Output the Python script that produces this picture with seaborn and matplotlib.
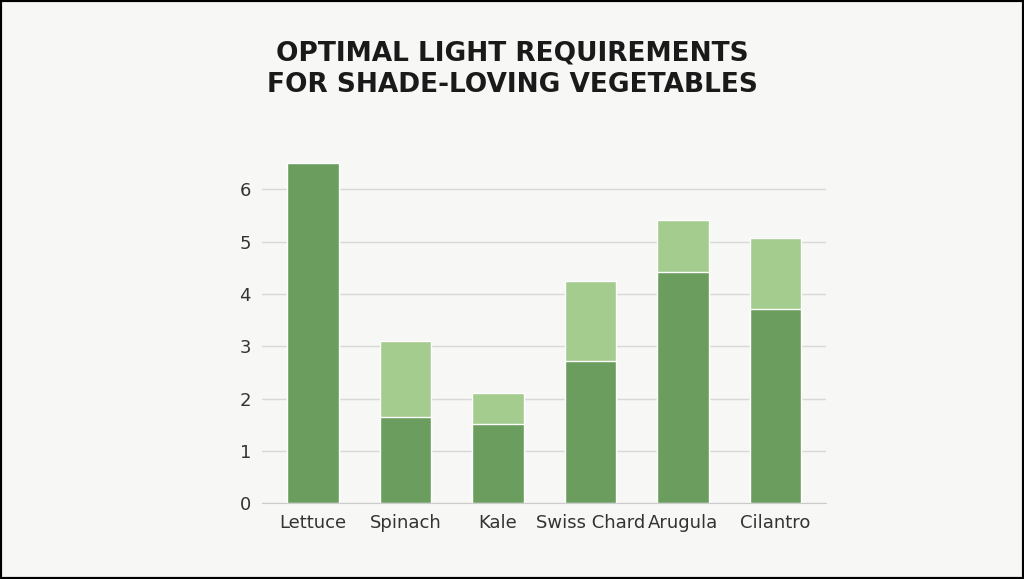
import pandas as pd
import matplotlib
matplotlib.use("Agg")
from matplotlib import pyplot as plt
import seaborn as sns

vegetables = ["Lettuce", "Spinach", "Kale", "Swiss Chard", "Arugula", "Cilantro"]
min_light = [6.5, 1.65, 1.52, 2.72, 4.42, 3.72]
max_light = [6.5, 3.1, 2.1, 4.25, 5.42, 5.08]

df = pd.DataFrame({"veg": vegetables, "low": min_light, "high": max_light})

dark = "#6b9d5e"
light = "#a4cc8f"
bg = "#f7f7f5"

sns.set_style("white")
fig = plt.figure(figsize=[10.24, 5.79], dpi=100, facecolor=bg)
ax = fig.add_axes([0.256, 0.131, 0.551, 0.596])
ax.set_facecolor(bg)

sns.barplot(data=df, x="veg", y="high", color=light, width=0.56, ax=ax, saturation=1)
sns.barplot(data=df, x="veg", y="low", color=dark, width=0.56, ax=ax, saturation=1)

ax.set_xlim(-0.55, 5.55)
ax.set_ylim(0, 6.6)
ax.set_yticks(range(0, 7))
ax.yaxis.grid(True, color="#d8d8d8", linewidth=1)
ax.set_axisbelow(True)
for s in ["top", "right", "left"]:
    ax.spines[s].set_visible(False)
ax.spines["bottom"].set_color("#cccccc")
ax.tick_params(axis="both", length=0, labelsize=13, labelcolor="#333333", pad=8)
ax.set_xlabel("")
ax.set_ylabel("")

fig.text(0.5, 0.88, "OPTIMAL LIGHT REQUIREMENTS\nFOR SHADE-LOVING VEGETABLES",
         ha="center", va="center", fontsize=19, fontweight="bold",
         color="#1a1a1a", linespacing=1.3)

border = plt.Rectangle((0, 0), 1, 1, transform=fig.transFigure, fill=False,
                       edgecolor="black", linewidth=3)
fig.patches.append(border)

plt.savefig("out.png", dpi=100, facecolor=bg)
